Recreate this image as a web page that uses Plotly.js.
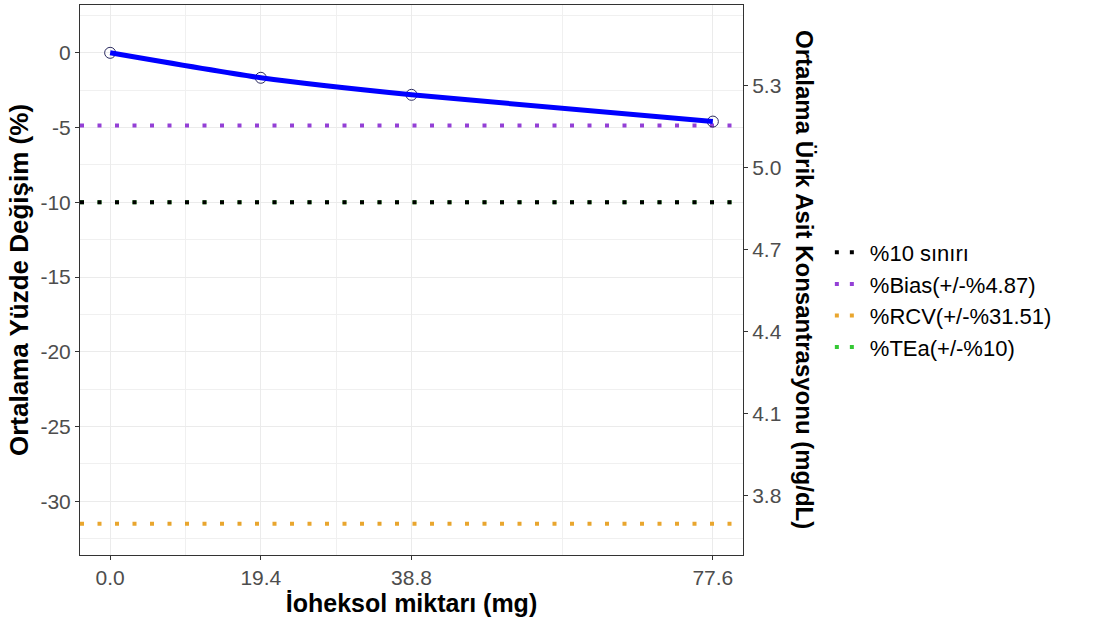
<!DOCTYPE html>
<html>
<head>
<meta charset="utf-8">
<script src="https://cdn.plot.ly/plotly-3.0.1.min.js"></script>
<style>html,body{margin:0;padding:0;background:#fff;}#chart{width:1101px;height:618px;}</style>
</head>
<body>
<div id="chart"></div>
<script>
// Data
const iohexolMg = [0.0, 19.4, 38.8, 77.6];
const meanPctChange = [0.0, -1.67, -2.81, -4.6];
const xTickVals = [0.0, 19.4, 38.8, 77.6];
const xTickText = ["0.0", "19.4", "38.8", "77.6"];
const yTickVals = [0, -5, -10, -15, -20, -25, -30];
const yTickText = ["0", "-5", "-10", "-15", "-20", "-25", "-30"];
const y2TickVals = [3.8, 4.1, 4.4, 4.7, 5.0, 5.3];
const y2TickText = ["3.8", "4.1", "4.4", "4.7", "5.0", "5.3"];
const refNames = ["%10 sınırı", "%Bias(+/-%4.87)", "%RCV(+/-%31.51)", "%TEa(+/-%10)"];
const refValues = [-10, -4.87, -31.51, -10];
const refColors = ["#000000", "#9440D6", "#E9A62E", "#35C835"];

const xRange = [-3.88, 81.48];
const yRange = [-33.6, 3.2];
const y2Range = [3.584, 5.596];

const traces = [];
// reference lines: draw TEa first so black sits on top
[3, 2, 1, 0].forEach(i => {
  traces.push({
    x: xRange, y: [refValues[i], refValues[i]],
    type: 'scatter', mode: 'lines', name: refNames[i],
    line: {color: refColors[i], width: 4, dash: '4px,13.5px'},
    hoverinfo: 'skip', showlegend: false
  });
});
// legend entries in original order
refNames.forEach((n, i) => {
  traces.push({
    x: [null], y: [null], type: 'scatter', mode: 'lines', name: n,
    line: {color: refColors[i], width: 4, dash: '4px,11px'},
    hoverinfo: 'skip', showlegend: true, legendrank: i + 1
  });
});
// points
traces.push({
  x: iohexolMg, y: meanPctChange, type: 'scatter', mode: 'markers',
  marker: {size: 11, color: 'rgba(255,255,255,0)', line: {color: '#2b2b60', width: 1}},
  showlegend: false, hoverinfo: 'skip'
});
// line
traces.push({
  x: iohexolMg, y: meanPctChange, type: 'scatter', mode: 'lines',
  line: {color: '#0000FF', width: 5, shape: 'spline', smoothing: 0.6},
  showlegend: false, hoverinfo: 'skip'
});
// secondary axis placeholder
traces.push({x: [null], y: [null], yaxis: 'y2', type: 'scatter', mode: 'lines', showlegend: false, hoverinfo: 'skip'});

const fam = 'Liberation Sans, Arial, sans-serif';
const tickFont = {family: fam, size: 21, color: '#4D4D4D'};

const layout = {
  width: 1101, height: 618,
  margin: {l: 80, r: 358, t: 5, b: 63},
  paper_bgcolor: '#ffffff', plot_bgcolor: '#ffffff',
  hovermode: false,
  xaxis: {
    range: xRange, tickmode: 'array', tickvals: xTickVals, ticktext: xTickText,
    showgrid: true, gridcolor: '#EBEBEB', gridwidth: 1,
    minor: {tickmode: 'array', tickvals: [9.7, 29.1, 58.2], showgrid: true, gridcolor: '#F0F0F0', gridwidth: 1, ticks: ''},
    zeroline: false, showline: true, linecolor: '#333333', linewidth: 1, mirror: true,
    ticks: 'outside', ticklen: 4, tickcolor: '#333333',
    tickfont: tickFont,
    title: {text: 'İoheksol miktarı (mg)', font: {family: fam, size: 25, color: '#000', weight: 'bold'}, standoff: 0}
  },
  yaxis: {
    range: yRange, tickmode: 'array', tickvals: yTickVals, ticktext: yTickText,
    showgrid: true, gridcolor: '#EBEBEB', gridwidth: 1,
    minor: {tickmode: 'linear', tick0: 2.5, dtick: 5, showgrid: true, gridcolor: '#F0F0F0', gridwidth: 1, ticks: ''},
    zeroline: false, showline: true, linecolor: '#333333', linewidth: 1, mirror: true,
    ticks: 'outside', ticklen: 4, tickcolor: '#333333',
    tickfont: tickFont,
    title: {text: 'Ortalama Yüzde Değişim (%)', font: {family: fam, size: 26, color: '#000', weight: 'bold'}, standoff: 4}
  },
  yaxis2: {
    overlaying: 'y', side: 'right', range: y2Range,
    tickmode: 'array', tickvals: y2TickVals, ticktext: y2TickText,
    showgrid: false, zeroline: false, showline: false,
    ticks: 'outside', ticklen: 4, tickcolor: '#333333',
    tickfont: tickFont
  },
  showlegend: true,
  legend: {
    x: 1.131, xanchor: 'left', y: 0.4636, yanchor: 'middle',
    font: {family: fam, size: 22, color: '#000000'},
    itemwidth: 30, tracegroupgap: 0, bgcolor: 'rgba(0,0,0,0)'
  },
  annotations: [{
    text: 'Ortalama Ürik Asit Konsantrasyonu (mg/dL)',
    xref: 'paper', yref: 'paper', x: 1.0935, y: 0.5,
    xanchor: 'center', yanchor: 'middle', textangle: 90, showarrow: false,
    font: {family: fam, size: 24, color: '#000', weight: 'bold'}
  }]
};

Plotly.newPlot('chart', traces, layout, {displayModeBar: false, staticPlot: true});
</script>
</body>
</html>
